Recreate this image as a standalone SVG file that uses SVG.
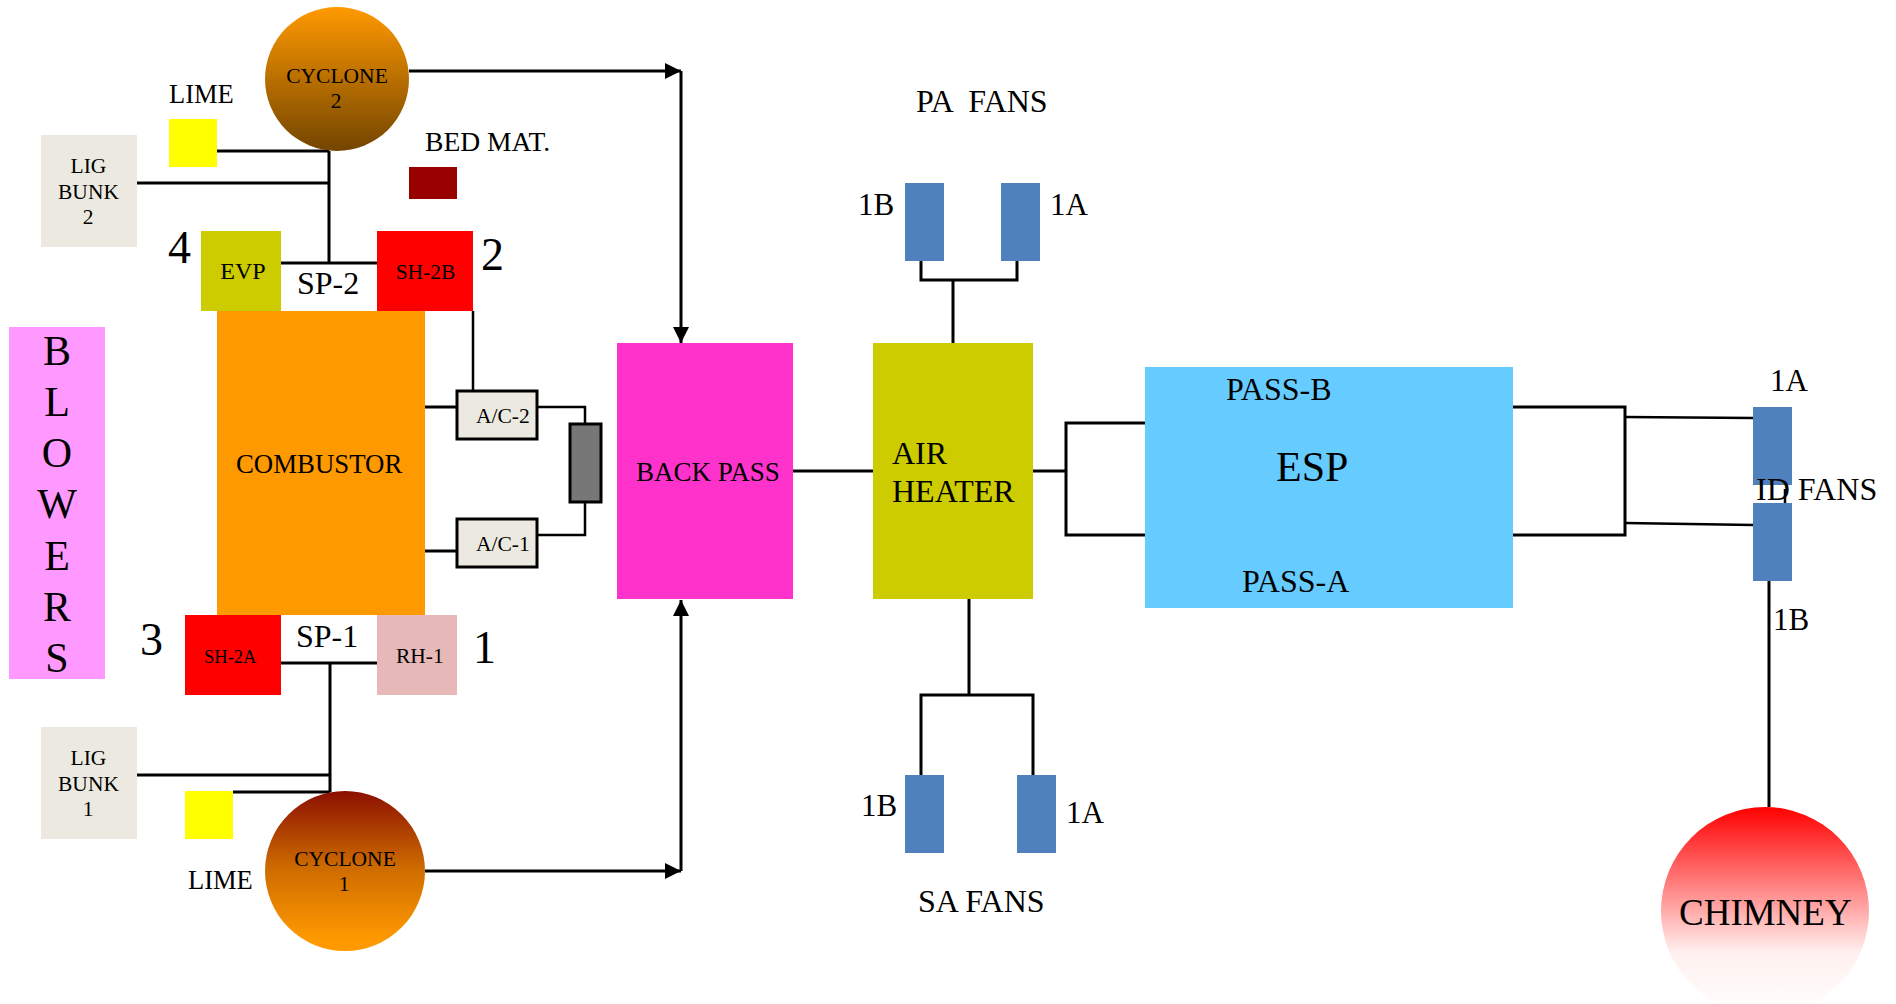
<svg xmlns="http://www.w3.org/2000/svg" width="1896" height="1004" viewBox="0 0 1896 1004">
<style>
text{font-family:"Liberation Serif","Times New Roman",serif;fill:#000}
.s18{font-size:18.5px}.s21{font-size:21.500px}.s24{font-size:24px}.s26{font-size:26.500px}.s27{font-size:27px}.s268{font-size:26.800px}.s28{font-size:27.600px}.s32{font-size:32px}.s31{font-size:31px}.s42{font-size:42px}.s46{font-size:46px}
.m{text-anchor:middle}
.c{fill:none;stroke:#000;stroke-width:3}
.t{fill:none;stroke:#000;stroke-width:2.5}
.fan{fill:#4F81BD}
.bunk{fill:#ECEAE0}
.lime{fill:#FFFF00}
.red{fill:#FF0000}
.olive{fill:#CCCC00}
.ac{fill:#ECEAE0;stroke:#000;stroke-width:3}
</style>
<defs>
<linearGradient id="gc2" x1="0" y1="0" x2="0" y2="1"><stop offset="0" stop-color="#FF9900"/><stop offset="1" stop-color="#734500"/></linearGradient>
<linearGradient id="gc1" x1="0" y1="0" x2="0" y2="1"><stop offset="0" stop-color="#8B0F00"/><stop offset="0.470" stop-color="#CC6A00"/><stop offset="0.720" stop-color="#E98400"/><stop offset="0.930" stop-color="#FF9900"/></linearGradient>
<linearGradient id="gch" x1="0" y1="0" x2="0" y2="1"><stop offset="0" stop-color="#FF0000"/><stop offset="0.700" stop-color="#FFF0EE"/><stop offset="1" stop-color="#FFFFFF"/></linearGradient>
<marker id="arrow" markerUnits="userSpaceOnUse" markerWidth="16" markerHeight="16" viewBox="0 0 16 16" refX="16" refY="8" orient="auto"><path d="M0,0L16,8L0,16z" fill="#000"/></marker>
</defs>
<g id="connectors">
<path class="c" d="M217,151H329M137,183H329M329,151V263M281,263H377"/>
<path class="t" d="M473,311V390"/>
<path class="c" d="M425,407H456M425,551H456"/>
<path class="t" d="M538,407H585V423M585,503V535H538"/>
<path class="c" d="M281,663H377M330,663V792M137,775H330M233,792H330"/>
<path class="c" d="M409,71H681" marker-end="url(#arrow)"/>
<path class="c" d="M681,71V343" marker-end="url(#arrow)"/>
<path class="c" d="M425,871H681" marker-end="url(#arrow)"/>
<path class="c" d="M681,871V600" marker-end="url(#arrow)"/>
<path class="c" d="M793,471H873M1033,471H1066M1145,423H1066V535H1145"/>
<path class="c" d="M921,261V280H1017V261M953,280V343"/>
<path class="c" d="M969,599V695M921,775V695H1033V775"/>
<path class="c" d="M1513,407H1625V535H1513"/>
<path class="t" d="M1625,417L1753,418M1625,523L1753,525M1785,489V503"/>
<path class="c" d="M1769,581V807"/>
</g>
<g id="cyclone-2"><circle cx="337" cy="79" r="72" fill="url(#gc2)"/><text class="s21 m" x="337" y="83">CYCLONE</text><text class="s21 m" x="336" y="108">2</text></g>
<g id="lime-2"><text class="s26" x="169" y="103">LIME</text><rect class="lime" x="169" y="119" width="48" height="48"/></g>
<g id="lig-bunk-2"><rect class="bunk" x="41" y="135" width="96" height="112"/><text class="s21 m" x="88.500" y="173">LIG</text><text class="s21 m" x="88.500" y="199">BUNK</text><text class="s21 m" x="88" y="224">2</text></g>
<g id="bed-mat"><text class="s28" x="425" y="151">BED MAT.</text><rect x="409" y="167" width="48" height="32" fill="#990000"/></g>
<g id="evp"><rect class="olive" x="201" y="231" width="80" height="80"/><text class="s24 m" x="243" y="279">EVP</text><text class="s46" x="168" y="263">4</text></g>
<g id="sp-2"><text class="s32" x="297" y="294">SP-2</text></g>
<g id="sh-2b"><rect class="red" x="377" y="231" width="96" height="80"/><text class="s21 m" x="425.500" y="279">SH-2B</text><text class="s46" x="481" y="270">2</text></g>
<g id="blowers"><rect x="9" y="327" width="96" height="352" fill="#FF99FF"/>
<text class="s42 m" x="57" y="365">B</text><text class="s42 m" x="57" y="416">L</text><text class="s42 m" x="57" y="467">O</text><text class="s42 m" x="57" y="518">W</text><text class="s42 m" x="57" y="570">E</text><text class="s42 m" x="57" y="621">R</text><text class="s42 m" x="57" y="672">S</text></g>
<g id="combustor"><rect x="217" y="311" width="208" height="304" fill="#FF9900"/><text class="s268" x="236" y="473">COMBUSTOR</text></g>
<g id="ac-2"><rect class="ac" x="457" y="391" width="80" height="48"/><text class="s21" x="476" y="423">A/C-2</text></g>
<g id="ac-1"><rect class="ac" x="457" y="519" width="80" height="48"/><text class="s21" x="476" y="551">A/C-1</text></g>
<g id="heater"><rect x="570" y="424" width="31" height="78" fill="#777777" stroke="#000" stroke-width="3"/></g>
<g id="back-pass"><rect x="617" y="343" width="176" height="256" fill="#FF33CC"/><text class="s27" x="636" y="481">BACK PASS</text></g>
<g id="sh-2a"><rect class="red" x="185" y="615" width="96" height="80"/><text class="s18" x="204" y="663">SH-2A</text><text class="s46" x="140" y="655">3</text></g>
<g id="sp-1"><text class="s32" x="296" y="647">SP-1</text></g>
<g id="rh-1"><rect x="377" y="615" width="80" height="80" fill="#E6B8B7"/><text class="s21" x="396" y="663">RH-1</text><text class="s46" x="473" y="663">1</text></g>
<g id="lig-bunk-1"><rect class="bunk" x="41" y="727" width="96" height="112"/><text class="s21 m" x="88.500" y="765">LIG</text><text class="s21 m" x="88.500" y="791">BUNK</text><text class="s21 m" x="88" y="816">1</text></g>
<g id="lime-1"><rect class="lime" x="185" y="791" width="48" height="48"/><text class="s26" x="188" y="889">LIME</text></g>
<g id="cyclone-1"><circle cx="345" cy="871" r="80" fill="url(#gc1)"/><text class="s21 m" x="345" y="866">CYCLONE</text><text class="s21 m" x="344" y="891">1</text></g>
<g id="pa-fans"><text class="s32" x="916" y="112" xml:space="preserve">PA  FANS</text>
<rect class="fan" x="905" y="183" width="39" height="78"/><rect class="fan" x="1001" y="183" width="39" height="78"/>
<text class="s31" x="858" y="215">1B</text><text class="s31" x="1050" y="215">1A</text></g>
<g id="air-heater"><rect class="olive" x="873" y="343" width="160" height="256"/><text class="s32" x="892" y="464">AIR</text><text class="s32" x="892" y="502">HEATER</text></g>
<g id="sa-fans"><rect class="fan" x="905" y="775" width="39" height="78"/><rect class="fan" x="1017" y="775" width="39" height="78"/>
<text class="s31" x="861" y="816">1B</text><text class="s31" x="1066" y="823">1A</text><text class="s32" x="918" y="912">SA FANS</text></g>
<g id="esp"><rect x="1145" y="367" width="368" height="241" fill="#66CCFF"/><text class="s32" x="1226" y="400">PASS-B</text><text class="s42" x="1276" y="481">ESP</text><text class="s32" x="1242" y="592">PASS-A</text></g>
<g id="id-fans"><rect class="fan" x="1753" y="407" width="39" height="78"/><rect class="fan" x="1753" y="503" width="39" height="78"/>
<text class="s31" x="1770" y="391">1A</text><text class="s32" x="1756" y="500">ID FANS</text><text class="s31" x="1773" y="630">1B</text></g>
<g id="chimney"><circle cx="1765" cy="911" r="104" fill="url(#gch)"/><text x="1679" y="925" font-size="37">CHIMNEY</text></g>
</svg>
